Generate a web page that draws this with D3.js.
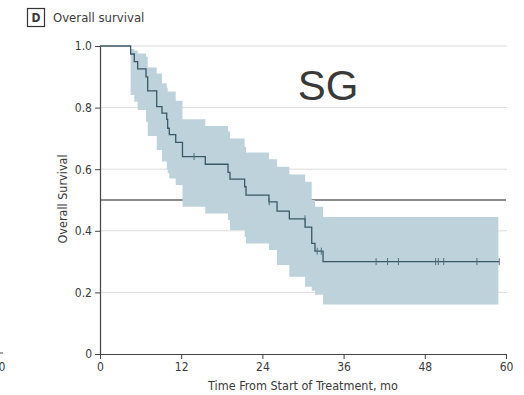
<!DOCTYPE html>
<html>
  <head>
    <meta charset="utf-8" />
    <title>Overall survival</title>
    <script src="https://d3js.org/d3.v7.min.js"></script>
    <style>
        body {
            margin: 0;
            background: #fff;
        }
        text {
            font-family: "Liberation Sans Narrow", "DejaVu Sans Condensed", "Roboto", sans-serif;
            fill: #3a3a3a;
        }
    </style>
  </head>
  <body>
    <svg id="km"></svg>

    <script>
        // step times (months) and Kaplan-Meier estimate with 95% CI
        var eventTimes = [4.53, 5.07, 5.57, 6.80, 7.05, 8.38, 9.16, 9.86, 10.0, 10.24, 11.19, 12.19,
                          15.56, 18.92, 19.21, 21.38, 21.58, 24.97, 26.16, 27.98, 30.31, 31.29, 31.77, 32.96];
        var survival =   [0.974, 0.949, 0.926, 0.900, 0.854, 0.803, 0.782, 0.762, 0.733, 0.712, 0.687, 0.641,
                          0.616, 0.590, 0.568, 0.543, 0.516, 0.494, 0.464, 0.439, 0.412, 0.359, 0.334, 0.300];
        var lowerCI =    [0.841, 0.819, 0.792, 0.754, 0.708, 0.662, 0.625, 0.600, 0.587, 0.570, 0.549, 0.478,
                          0.456, 0.435, 0.403, 0.380, 0.359, 0.338, 0.289, 0.251, 0.218, 0.205, 0.192, 0.161];
        var upperCI =    [0.990, 0.985, 0.976, 0.965, 0.930, 0.911, 0.879, 0.865, 0.852, 0.852, 0.822, 0.762,
                          0.740, 0.722, 0.700, 0.672, 0.654, 0.632, 0.608, 0.583, 0.559, 0.500, 0.478, 0.445];
        var censorTimes = [13.9, 25.0, 30.3, 32.1, 32.7, 40.8, 42.5, 44.1, 49.6, 50.0, 50.8, 55.7, 59.0];
        var lastFollowUp = 59.0;
        var bandEnd = 58.87;

        var xTicks = [0, 12, 24, 36, 48, 60];
        var yTicks = [0, 0.2, 0.4, 0.6, 0.8, 1.0];
        var yTickLabels = ["0", "0.2", "0.4", "0.6", "0.8", "1.0"];

        var width = 524;
        var height = 395;
        var margin = {top: 46, right: 18, bottom: 41, left: 100};

        var svg = d3.select("#km").attr("width", width).attr("height", height);

        var x = d3.scaleLinear()
            .domain([0, 60])
            .range([margin.left, width - margin.right]);

        var y = d3.scaleLinear()
            .domain([0, 1])
            .range([height - margin.bottom, margin.top]);

        // build the step data
        var steps = [{t: 0, s: 1}];
        eventTimes.forEach(function(t, i) {
            steps.push({t: t, s: survival[i]});
        });
        steps.push({t: lastFollowUp, s: survival[survival.length - 1]});

        var band = eventTimes.map(function(t, i) {
            return {t: t, lo: lowerCI[i], hi: upperCI[i]};
        });
        band.push({t: bandEnd, lo: lowerCI[lowerCI.length - 1], hi: upperCI[upperCI.length - 1]});

        function survAt(t) {
            var s = 1;
            eventTimes.forEach(function(e, i) {
                if (e <= t) s = survival[i];
            });
            return s;
        }

        // grid lines
        svg.append("g").selectAll("line")
            .data(yTicks.filter(function(d) { return d > 0; }))
            .enter().append("line")
            .attr("x1", x(0)).attr("x2", x(60) + 1)
            .attr("y1", function(d) { return y(d); })
            .attr("y2", function(d) { return y(d); })
            .attr("stroke", "#dcdcdc")
            .attr("stroke-width", 1);

        // median reference
        svg.append("line")
            .attr("x1", x(0)).attr("x2", x(60))
            .attr("y1", y(0.5)).attr("y2", y(0.5))
            .attr("stroke", "#1a1a1a")
            .attr("stroke-width", 1.1);

        // confidence band
        var area = d3.area()
            .curve(d3.curveStepAfter)
            .x(function(d) { return x(d.t); })
            .y0(function(d) { return y(d.lo); })
            .y1(function(d) { return y(d.hi); });

        svg.append("path")
            .datum(band)
            .attr("d", area)
            .attr("fill", "#bed2dc");

        // survival curve
        var line = d3.line()
            .curve(d3.curveStepAfter)
            .x(function(d) { return x(d.t); })
            .y(function(d) { return y(d.s); });

        svg.append("path")
            .datum(steps)
            .attr("d", line)
            .attr("fill", "none")
            .attr("stroke", "#375864")
            .attr("stroke-width", 1.3);

        // censor marks
        svg.append("g").selectAll("line")
            .data(censorTimes)
            .enter().append("line")
            .attr("x1", function(d) { return x(d); })
            .attr("x2", function(d) { return x(d); })
            .attr("y1", function(d) { return y(survAt(d)) - 3.5; })
            .attr("y2", function(d) { return y(survAt(d)) + 3.5; })
            .attr("stroke", "#4d6d78")
            .attr("stroke-width", 1);

        // axes
        var yAxis = svg.append("g")
            .attr("transform", "translate(" + x(0) + ",0)")
            .call(d3.axisLeft(y)
                .tickValues(yTicks)
                .tickSize(5)
                .tickSizeOuter(0)
                .tickPadding(3)
                .tickFormat(function(d, i) { return yTickLabels[i]; }));

        var xAxis = svg.append("g")
            .attr("transform", "translate(0," + y(0) + ")")
            .call(d3.axisBottom(x)
                .tickValues(xTicks)
                .tickSize(5)
                .tickSizeOuter(0)
                .tickPadding(3));

        [yAxis, xAxis].forEach(function(a) {
            a.select(".domain").attr("stroke", "#444").attr("stroke-width", 1.2);
            a.selectAll(".tick line").attr("stroke", "#444");
            a.selectAll(".tick text")
                .style("font-family", "'Liberation Sans Narrow', 'DejaVu Sans Condensed', sans-serif")
                .style("font-size", "12px")
                .attr("fill", "#3a3a3a");
        });

        // axis titles
        svg.append("text")
            .attr("x", 303)
            .attr("y", 390)
            .attr("text-anchor", "middle")
            .style("font-size", "12.5px")
            .text("Time From Start of Treatment, mo");

        svg.append("text")
            .attr("transform", "translate(67,199) rotate(-90)")
            .attr("text-anchor", "middle")
            .style("font-size", "12.5px")
            .text("Overall Survival");

        // panel label
        svg.append("rect")
            .attr("x", 27.5).attr("y", 8.5)
            .attr("width", 17).attr("height", 18)
            .attr("fill", "none")
            .attr("stroke", "#333")
            .attr("stroke-width", 1.2);

        svg.append("text")
            .attr("x", 36).attr("y", 22)
            .attr("text-anchor", "middle")
            .style("font-size", "12px")
            .style("font-weight", "bold")
            .text("D");

        svg.append("text")
            .attr("x", 53).attr("y", 22)
            .style("font-size", "13px")
            .text("Overall survival");

        svg.append("text")
            .attr("x", 328).attr("y", 100)
            .attr("text-anchor", "middle")
            .style("font-family", "'Liberation Sans', Arial, sans-serif")
            .style("font-size", "42px")
            .attr("fill", "#000")
            .text("SG");

        // edge of neighbouring panel
        svg.append("text")
            .attr("x", -1.5).attr("y", 371)
            .style("font-size", "12px")
            .text("0");
        svg.append("line")
            .attr("x1", 0).attr("x2", 3)
            .attr("y1", 353).attr("y2", 353)
            .attr("stroke", "#444");
    </script>
  </body>
</html>
